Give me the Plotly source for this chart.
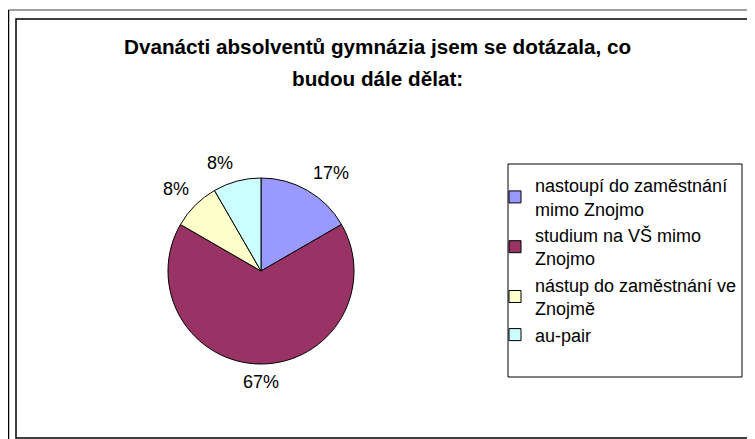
import math
import plotly.graph_objects as go

W, H = 755, 439
OFF = 8  # page offset of the plot div (default body margin)

categories = [
    "nastoupí do zaměstnání<br>mimo Znojmo",
    "studium na VŠ mimo<br>Znojmo",
    "nástup do zaměstnání ve<br>Znojmě",
    "au-pair",
]
counts = [2, 8, 1, 1]
colors = ["#9999FF", "#993366", "#FFFFCC", "#CCFFFF"]
title_lines = [
    "Dvanácti absolventů gymnázia jsem se dotázala, co",
    "budou dále dělat:",
]

FONT = "Liberation Sans, Arial, sans-serif"


def px_x(x):
    return (x - OFF) / W


def px_y(y):
    return 1 - (y - OFF) / H


cx, cy, r = 261, 271, 93

fig = go.Figure(
    go.Pie(
        labels=categories,
        values=counts,
        sort=False,
        direction="clockwise",
        rotation=0,
        marker=dict(colors=colors, line=dict(color="black", width=1)),
        textinfo="none",
        domain=dict(x=[px_x(cx - r), px_x(cx + r)], y=[px_y(cy + r), px_y(cy - r)]),
        hoverinfo="label+percent",
    )
)

# outside percentage labels, positioned from the slice angles
annotations = []
total = sum(counts)
cum = 0
for v in counts:
    theta = 2 * math.pi * (cum + v / 2) / total
    cum += v
    s, c = math.sin(theta), math.cos(theta)
    rr = r + 6
    ax = cx + rr * s
    ay = cy - rr * c
    xanchor = "left" if s > 0.1 else ("right" if s < -0.1 else "center")
    yanchor = "bottom" if c > 0.1 else ("top" if c < -0.1 else "middle")
    annotations.append(
        dict(text=f"{round(100 * v / total)}%", xref="paper", yref="paper",
             x=px_x(ax), y=px_y(ay), xanchor=xanchor, yanchor=yanchor,
             showarrow=False, font=dict(family=FONT, size=18, color="black"))
    )

annotations += [
    dict(text="<b>" + title_lines[0] + "</b>", xref="paper", yref="paper", x=px_x(377), y=px_y(46),
         xanchor="center", yanchor="middle", showarrow=False,
         font=dict(family=FONT, size=20.7, color="black")),
    dict(text="<b>" + title_lines[1] + "</b>", xref="paper", yref="paper", x=px_x(377), y=px_y(79),
         xanchor="center", yanchor="middle", showarrow=False,
         font=dict(family=FONT, size=20.7, color="black")),
]

shapes = [
    # outer frame lines
    dict(type="line", xref="paper", yref="paper", x0=0.5 / W, x1=1, y0=px_y(10), y1=px_y(10),
         line=dict(color="#808080", width=1.5)),
    dict(type="line", xref="paper", yref="paper", x0=0.5 / W, x1=0.5 / W, y0=px_y(10), y1=0,
         line=dict(color="black", width=1.5)),
    # inner chart frame
    dict(type="rect", xref="paper", yref="paper", x0=px_x(16), x1=px_x(752), y0=px_y(438), y1=px_y(19),
         line=dict(color="black", width=1.5)),
    # legend frame
    dict(type="rect", xref="paper", yref="paper", x0=px_x(508), x1=px_x(742), y0=px_y(377), y1=px_y(164),
         line=dict(color="black", width=1)),
]

fig.update_layout(
    width=W,
    height=H,
    margin=dict(l=0, r=0, t=0, b=0),
    paper_bgcolor="white",
    plot_bgcolor="white",
    showlegend=True,
    legend=dict(
        x=px_x(495), y=px_y(167), xanchor="left", yanchor="top",
        font=dict(family=FONT, size=18, color="black"),
        bgcolor="rgba(0,0,0,0)", borderwidth=0,
    ),
    shapes=shapes,
    annotations=annotations,
)

fig.write_html("out.html")
